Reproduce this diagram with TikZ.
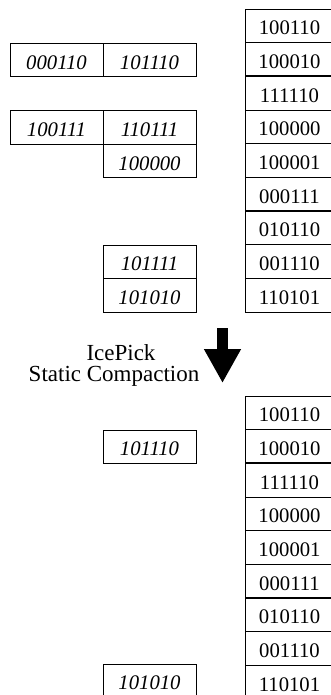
\documentclass[tikz,border=0pt]{standalone}
\usepackage{fontspec}
\setmainfont{Liberation Serif}
\usetikzlibrary{arrows.meta}
\tikzset{
  cell/.style={draw, line width=0.8pt, minimum width=88pt, minimum height=33.67pt,
    inner sep=0pt, outer sep=0pt, anchor=north west, text height=18pt, text depth=0pt,
    font=\fontsize{20.7}{23}\selectfont},
  side/.style={cell, minimum width=93pt, font=\fontsize{20.7}{23}\selectfont\itshape},
  sep/.style={line width=2.2pt},
  midsep/.style={line width=1.3pt},
  lab/.style={anchor=base, inner sep=0pt, outer sep=0pt, font=\fontsize{23}{26}\selectfont},
  bigarrow/.style={line width=11.6pt, -{Triangle[width=34.7pt,length=34pt]}}
}
\begin{document}
\begin{tikzpicture}[x=1pt,y=-1pt]
\useasboundingbox (0,0) rectangle (331,695);
% top column
\node[cell] (t1) at (245.5,9) {100110};
\node[cell] (t2) at (t1.south west) {100010};
\node[cell] (t3) at (t2.south west) {111110};
\node[cell] (t4) at (t3.south west) {100000};
\node[cell] (t5) at (t4.south west) {100001};
\node[cell] (t6) at (t5.south west) {000111};
\node[cell] (t7) at (t6.south west) {010110};
\node[cell] (t8) at (t7.south west) {001110};
\node[cell] (t9) at (t8.south west) {110101};
\draw[sep] (t2.south west) -- (t2.south east);
\draw[midsep] (t4.south west) -- (t4.south east);
\draw[sep] (t6.south west) -- (t6.south east);
% top side boxes
\node[side] (sa1) at (10,43.2) {000110};
\node[side] (sa2) at (sa1.north east) {101110};
\node[side] (sb1) at (10,110.5) {100111};
\node[side] (sb2) at (sb1.north east) {110111};
\node[side] (sb3) at (sb2.south west) {100000};
\node[side] (sc1) at (103,245) {101111};
\node[side] (sc2) at (sc1.south west) {101010};
% arrow and label
\coordinate (arrtop) at (222.5,328);
\coordinate (arrtip) at (222.5,383);
\draw[bigarrow] (arrtop) -- (arrtip);
\node[lab] (lab1) at (121,360.7) {IcePick};
\node[lab] (lab2) at (114,381.7) {Static Compaction};
% bottom column
\node[cell] (b1) at (245.5,396) {100110};
\node[cell] (b2) at (b1.south west) {100010};
\node[cell] (b3) at (b2.south west) {111110};
\node[cell] (b4) at (b3.south west) {100000};
\node[cell] (b5) at (b4.south west) {100001};
\node[cell] (b6) at (b5.south west) {000111};
\node[cell] (b7) at (b6.south west) {010110};
\node[cell] (b8) at (b7.south west) {001110};
\node[cell] (b9) at (b8.south west) {110101};
\draw[sep] (b2.south west) -- (b2.south east);
\draw[midsep] (b5.south west) -- (b5.south east);
\draw[sep] (b6.south west) -- (b6.south east);
% bottom side boxes
\node[side] (sd1) at (103,430) {101110};
\node[side] (sd2) at (103,664) {101010};
\end{tikzpicture}
\end{document}
